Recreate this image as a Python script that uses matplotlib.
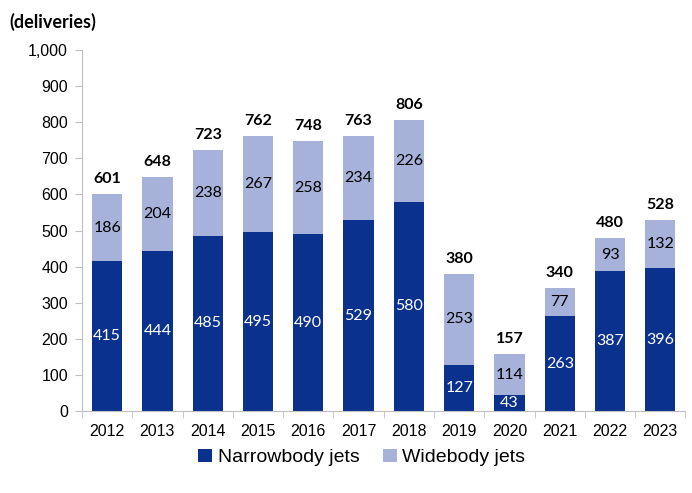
import matplotlib.pyplot as plt
import numpy as np

years = ['2012', '2013', '2014', '2015', '2016', '2017', '2018', '2019', '2020', '2021', '2022', '2023']
narrowbody = [415, 444, 485, 495, 490, 529, 580, 127, 43, 263, 387, 396]
widebody = [186, 204, 238, 267, 258, 234, 226, 253, 114, 77, 93, 132]

navy = '#0B318F'
lilac = '#A6B2D9'
grey = '#BFBFBF'
label_font = ['Lato', 'DejaVu Sans']
axis_font = ['Liberation Sans', 'DejaVu Sans']

fig = plt.figure(figsize=(6.92, 4.93), dpi=100)
ax = fig.add_axes([0.1185, 0.1663, 0.872, 0.7323])

x = np.arange(len(years))
totals = np.array(narrowbody) + np.array(widebody)

ax.bar(x, narrowbody, width=0.6, color=navy, label='Narrowbody jets')
ax.bar(x, widebody, width=0.6, bottom=narrowbody, color=lilac, label='Widebody jets')

for i in range(len(years)):
    ax.text(x[i], narrowbody[i] / 2, str(narrowbody[i]), ha='center', va='center',
            color='white', fontsize=11.5, family=label_font)
    ax.text(x[i], narrowbody[i] + widebody[i] / 2, str(widebody[i]), ha='center', va='center',
            color='black', fontsize=11.5, family=label_font)
    ax.text(x[i], totals[i] + 22, str(totals[i]), ha='center', va='bottom',
            color='black', fontsize=11.5, fontweight='bold', family=label_font)

ax.set_xlim(-0.5, len(years) - 0.5)
ax.set_ylim(0, 1000)
ax.set_yticks(np.arange(0, 1001, 100))
ax.set_yticklabels([f'{v:,}' for v in range(0, 1001, 100)], family=axis_font, fontsize=11.5)
ax.set_xticks(x)
ax.set_xticklabels(years, family=axis_font, fontsize=11.5)
ax.set_xticks(np.arange(-0.5, len(years), 1), minor=True)
ax.tick_params(axis='x', which='major', length=0, pad=9)
ax.tick_params(axis='x', which='minor', length=5, color=grey)
ax.tick_params(axis='y', length=5, color=grey, pad=5)

for side in ['top', 'right']:
    ax.spines[side].set_visible(False)
ax.spines['left'].set_color(grey)
ax.spines['bottom'].set_color(grey)

fig.text(0.014, 0.955, '(deliveries)', fontsize=13, fontweight='bold',
         family=label_font, va='center')

fig.legend(loc='center', bbox_to_anchor=(0.523, 0.072), ncol=2, frameon=False,
           prop={'family': axis_font, 'size': 14}, handlelength=0.7, handleheight=0.7,
           columnspacing=1.2, handletextpad=0.3)

fig.savefig('out.png', dpi=100)
